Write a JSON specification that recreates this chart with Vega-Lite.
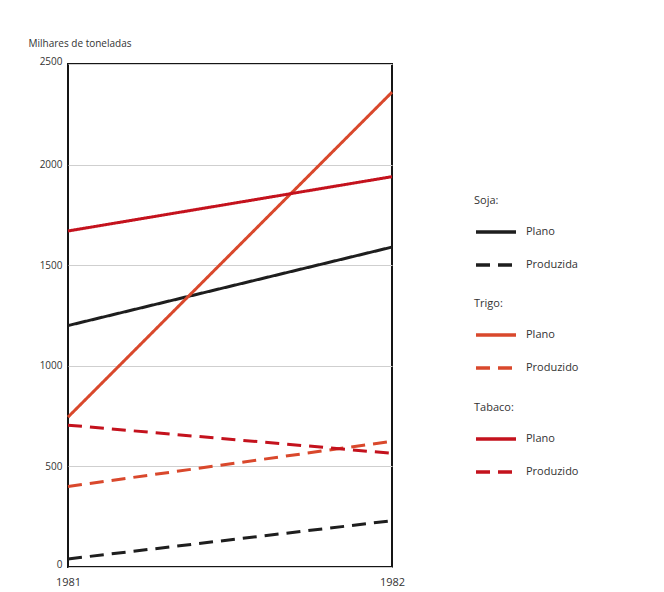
{
  "$schema": "https://vega.github.io/schema/vega-lite/v6.json",
  "width": 324,
  "height": 503,
  "padding": {"left": 28, "top": 38, "right": 5, "bottom": 5},
  "background": "#ffffff",
  "config": {
    "font": "Open Sans",
    "view": {"stroke": "#151515", "strokeWidth": 2},
    "legend": {
      "orient": "none",
      "symbolType": "stroke",
      "symbolSize": 1600,
      "symbolStrokeWidth": 3.5,
      "labelFontSize": 11,
      "labelColor": "#333333",
      "labelOffset": 8,
      "titleFontSize": 11,
      "titleFontWeight": "normal",
      "titleColor": "#333333",
      "titlePadding": 4,
      "rowPadding": 4
    }
  },
  "data": {
    "values": [
      {"cultura": "Soja", "tipo": "Plano", "ano": 1981, "valor": 1200},
      {"cultura": "Soja", "tipo": "Plano", "ano": 1982, "valor": 1590},
      {"cultura": "Soja", "tipo": "Produzida", "ano": 1981, "valor": 40},
      {"cultura": "Soja", "tipo": "Produzida", "ano": 1982, "valor": 230},
      {"cultura": "Trigo", "tipo": "Plano", "ano": 1981, "valor": 745},
      {"cultura": "Trigo", "tipo": "Plano", "ano": 1982, "valor": 2360},
      {"cultura": "Trigo", "tipo": "Produzido", "ano": 1981, "valor": 400},
      {"cultura": "Trigo", "tipo": "Produzido", "ano": 1982, "valor": 625},
      {"cultura": "Tabaco", "tipo": "Plano", "ano": 1981, "valor": 1670},
      {"cultura": "Tabaco", "tipo": "Plano", "ano": 1982, "valor": 1940},
      {"cultura": "Tabaco", "tipo": "Produzido", "ano": 1981, "valor": 705},
      {"cultura": "Tabaco", "tipo": "Produzido", "ano": 1982, "valor": 565}
    ]
  },
  "encoding": {
    "x": {
      "field": "ano",
      "type": "quantitative",
      "scale": {"domain": [1981, 1982], "nice": false, "zero": false},
      "axis": {
        "title": null,
        "values": [1981, 1982],
        "format": "d",
        "grid": false,
        "domain": false,
        "ticks": false,
        "labelFlush": false,
        "labelFontSize": 11,
        "labelColor": "#333333",
        "labelPadding": 9
      }
    },
    "y": {
      "field": "valor",
      "type": "quantitative",
      "scale": {"domain": [0, 2500], "nice": false},
      "axis": {
        "title": "Milhares de toneladas",
        "titleAngle": 0,
        "titleAlign": "left",
        "titleBaseline": "bottom",
        "titleX": -40,
        "titleY": -16,
        "titleFontSize": 10,
        "titleFontWeight": "normal",
        "titleColor": "#333333",
        "values": [0, 500, 1000, 1500, 2000, 2500],
        "format": "d",
        "grid": true,
        "gridColor": "#cfcfcf",
        "gridWidth": 1,
        "domain": false,
        "ticks": false,
        "labelFontSize": 10,
        "labelColor": "#333333",
        "labelPadding": 6,
        "labelFlush": false,
        "labelBaseline": {"expr": "datum.value === 0 || datum.value === 2500 ? 'alphabetic' : 'middle'"}
      }
    }
  },
  "layer": [
    {
      "transform": [{"filter": "datum.cultura === 'Soja'"}],
      "mark": {"type": "line", "color": "#1e1e1e", "strokeWidth": 3},
      "encoding": {
        "strokeDash": {
          "field": "tipo",
          "type": "nominal",
          "scale": {"domain": ["Plano", "Produzida"], "range": [[1, 0], [14, 8]]},
          "legend": {"title": "Soja:", "symbolStrokeColor": "#1e1e1e", "legendX": 406, "legendY": 131}
        }
      }
    },
    {
      "transform": [{"filter": "datum.cultura === 'Trigo'"}],
      "mark": {"type": "line", "color": "#d9482c", "strokeWidth": 3},
      "encoding": {
        "strokeDash": {
          "field": "tipo",
          "type": "nominal",
          "scale": {"domain": ["Plano", "Produzido"], "range": [[1, 0], [14, 8]]},
          "legend": {"title": "Trigo:", "symbolStrokeColor": "#d9482c", "legendX": 406, "legendY": 234}
        }
      }
    },
    {
      "transform": [{"filter": "datum.cultura === 'Tabaco'"}],
      "mark": {"type": "line", "color": "#c4121d", "strokeWidth": 3},
      "encoding": {
        "strokeDash": {
          "field": "tipo",
          "type": "nominal",
          "scale": {"domain": ["Plano", "Produzido"], "range": [[1, 0], [14, 8]]},
          "legend": {"title": "Tabaco:", "symbolStrokeColor": "#c4121d", "legendX": 406, "legendY": 338}
        }
      }
    }
  ],
  "resolve": {"scale": {"strokeDash": "independent"}, "legend": {"strokeDash": "independent"}}
}
